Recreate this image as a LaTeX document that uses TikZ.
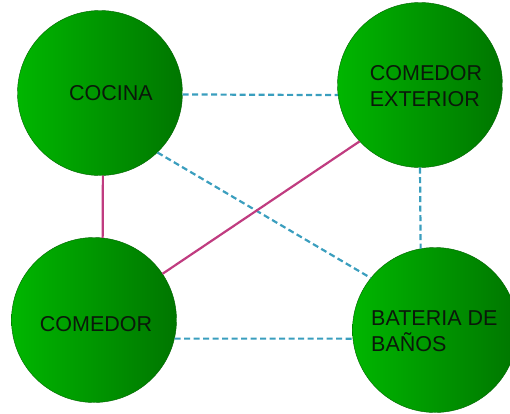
\documentclass[tikz,border=0pt]{standalone}
\usepackage{fontspec}
\setmainfont{Liberation Sans}
\begin{document}
\begin{tikzpicture}[x=1pt,y=-1pt,
  room/.style={circle, minimum size=165pt, inner sep=0pt, draw={rgb,255:red,0;green,100;blue,0}, line width=0.4pt,
    left color={rgb,255:red,0;green,182;blue,0}, right color={rgb,255:red,0;green,118;blue,0}, shading angle=90},
  lbl/.style={font=\fontsize{21.5}{26}\selectfont, text={rgb,255:red,10;green,25;blue,10}, align=left, inner sep=0pt},
  dline/.style={draw={rgb,255:red,58;green,158;blue,190}, line width=2.2pt, dash pattern=on 6pt off 3.5pt},
  sline/.style={draw={rgb,255:red,192;green,60;blue,128}, line width=2.2pt}]
\useasboundingbox (0,0) rectangle (510,413);
\node[room] (cocina) at (100,93) {};
\node[room] (ext) at (420,85) {};
\node[room] (comedor) at (94,320) {};
\node[room] (banos) at (435,330) {};
\node[lbl] (tcocina) at (111,93) {COCINA};
\node[lbl] (text) at (426,86) {COMEDOR\\EXTERIOR};
\node[lbl] (tcomedor) at (96,324) {COMEDOR};
\node[lbl, anchor=west] (tbanos) at (371,331) {BATERIA DE\\BAÑOS};
\draw[dline] (cocina.-1) -- (ext.187);
\draw[dline] (ext.south) -- (banos.100);
\draw[dline] (comedor.-13) -- (banos.186);
\draw[dline] (cocina.-46) -- (banos.141);
\draw[sline] (cocina.-88) -- (comedor.84);
\draw[sline] (comedor.34) -- (ext.223);
\end{tikzpicture}
\end{document}
